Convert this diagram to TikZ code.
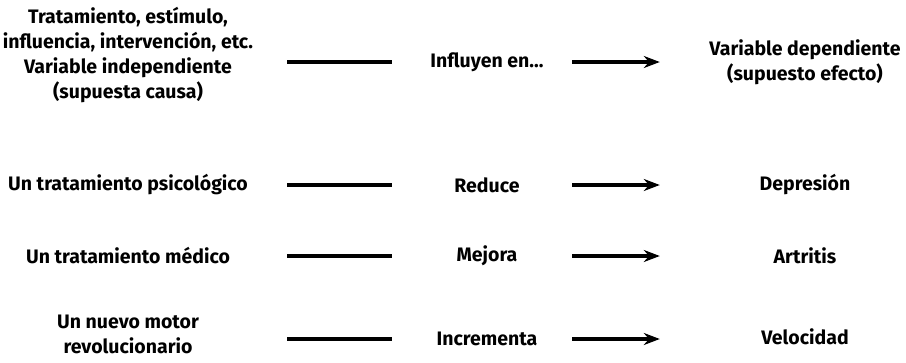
\documentclass[tikz,border=0pt]{standalone}
\usepackage{fontspec}
\setmainfont{Fira Sans}
\usepackage{tikz}
\usetikzlibrary{arrows, arrows.meta, positioning, calc}

\begin{document}
\begin{tikzpicture}[x=1pt, y=-1pt,
    cause/.style={align=center, inner sep=0pt, minimum width=298pt, font=\fontsize{19.5}{25}\selectfont\bfseries},
    verb/.style={inner sep=0pt, minimum width=170pt, font=\fontsize{19.5}{25}\selectfont\bfseries},
    effect/.style={align=center, inner sep=0pt, minimum width=270pt, font=\fontsize{19.5}{25}\selectfont\bfseries},
    link/.style={line width=3.2pt, shorten <=10pt, shorten >=10pt},
    leads/.style={line width=3.2pt, -{Stealth[length=16pt, width=12pt]}, shorten >=10pt}]
    \useasboundingbox (0,0) rectangle (906,362);
    \node [cause] (c1) at (128,55) {Tratamiento, estímulo,\\influencia, intervención, etc.\\Variable independiente\\(supuesta causa)};
    \node [verb] (v1) at (487,62) {Influyen en...};
    \node [effect] (e1) at (805,62) {Variable dependiente\\(supuesto efecto)};
    \node [cause] (c2) at (128,185) {Un tratamiento psicológico};
    \node [verb] (v2) at (487,185) {Reduce};
    \node [effect] (e2) at (805,185) {Depresión};
    \node [cause] (c3) at (128,256) {Un tratamiento médico};
    \node [verb] (v3) at (487,256) {Mejora};
    \node [effect] (e3) at (805,256) {Artritis};
    \node [cause] (c4) at (128,334) {Un nuevo motor\\revolucionario};
    \node [verb] (v4) at (487,339) {Incrementa};
    \node [effect] (e4) at (805,337) {Velocidad};
    \foreach \i in {1,...,4} {
        \draw [link] (c\i.east |- v\i) -- (v\i.west);
        \draw [leads] (v\i.east) -- (e\i.west |- v\i);
    }
\end{tikzpicture}
\end{document}
